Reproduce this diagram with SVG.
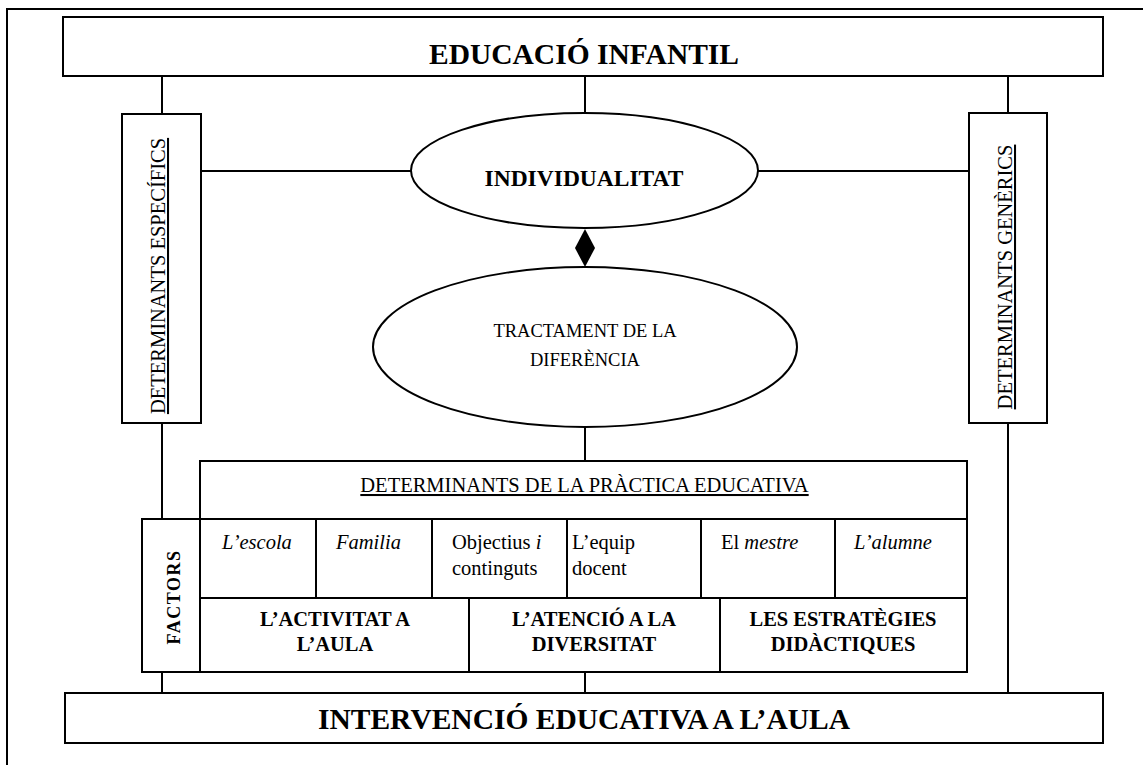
<svg xmlns="http://www.w3.org/2000/svg" width="1143" height="765" viewBox="0 0 1143 765">
<style>
  .box{fill:#fff;stroke:#000;stroke-width:2}
  .ln{stroke:#000;stroke-width:2;fill:none}
  .t{font-family:"Liberation Serif","Times New Roman",serif;fill:#000}
  .big{font-size:29.5px;font-weight:bold;text-anchor:middle}
  .mid{font-size:23.5px;font-weight:bold;text-anchor:middle}
  .reg{font-size:20.5px}
  .bold{font-size:20.5px;font-weight:bold;text-anchor:middle}
  .it{font-style:italic}
  .u{text-decoration:underline}
  .c{text-anchor:middle}
</style>
<rect x="0" y="0" width="1143" height="765" fill="#fff"/>
<rect id="frame" x="7" y="9" width="1150" height="770" fill="none" stroke="#000" stroke-width="2"/>

<g id="connectors">
  <line class="ln" x1="162" y1="76" x2="162" y2="114"/>
  <line class="ln" x1="585" y1="76" x2="585" y2="113"/>
  <line class="ln" x1="1008" y1="76" x2="1008" y2="113"/>
  <line class="ln" x1="201" y1="171" x2="411" y2="171"/>
  <line class="ln" x1="758" y1="171" x2="969" y2="171"/>
  <polygon points="585,229 595,248 585,267 575,248" fill="#000"/>
  <line class="ln" x1="585" y1="427" x2="585" y2="461"/>
  <line class="ln" x1="162" y1="423" x2="162" y2="519"/>
  <line class="ln" x1="1008" y1="423" x2="1008" y2="693"/>
  <line class="ln" x1="162" y1="672" x2="162" y2="693"/>
  <line class="ln" x1="585" y1="672" x2="585" y2="693"/>
</g>

<g id="educacio-infantil">
  <rect class="box" x="63" y="17" width="1040" height="59"/>
  <text class="t big" x="584" y="64">EDUCACIÓ INFANTIL</text>
</g>

<g id="determinants-especifics">
  <rect class="box" x="122" y="114" width="79" height="309"/>
  <text class="t reg c u" transform="translate(165,276) rotate(-90)">DETERMINANTS ESPECÍFICS</text>
</g>

<g id="determinants-generics">
  <rect class="box" x="969" y="113" width="78" height="310"/>
  <text class="t reg c u" transform="translate(1012,277) rotate(-90)">DETERMINANTS GENÈRICS</text>
</g>

<g id="individualitat">
  <ellipse class="box" cx="584.5" cy="170.5" rx="173.5" ry="57.5"/>
  <text class="t mid" x="584" y="186">INDIVIDUALITAT</text>
</g>

<g id="tractament">
  <ellipse class="box" cx="585" cy="347" rx="212" ry="80"/>
  <text class="t c" style="font-size:18.5px" x="585" y="337">TRACTAMENT DE LA</text>
  <text class="t c" style="font-size:18.5px" x="585" y="366">DIFERÈNCIA</text>
</g>

<g id="determinants-practica">
  <rect class="box" x="200" y="461" width="767" height="58"/>
  <text class="t reg c u" x="584.5" y="492">DETERMINANTS DE LA PRÀCTICA EDUCATIVA</text>
</g>

<g id="factors">
  <rect class="box" x="142" y="519" width="58" height="153"/>
  <text class="t c" style="font-size:18px;font-weight:bold;letter-spacing:1.5px" transform="translate(180,597) rotate(-90)">FACTORS</text>
</g>

<g id="cell-escola">
  <rect class="box" x="200" y="519" width="116" height="79"/>
  <text class="t reg it" x="222" y="549">L’escola</text>
</g>
<g id="cell-familia">
  <rect class="box" x="316" y="519" width="116" height="79"/>
  <text class="t reg it" x="336" y="549">Familia</text>
</g>
<g id="cell-objectius">
  <rect class="box" x="432" y="519" width="135" height="79"/>
  <text class="t reg" x="452" y="549">Objectius <tspan class="it">i</tspan></text>
  <text class="t reg" x="452" y="575">continguts</text>
</g>
<g id="cell-equip">
  <rect class="box" x="567" y="519" width="134" height="79"/>
  <text class="t reg" x="572" y="549">L’equip</text>
  <text class="t reg" x="572" y="575">docent</text>
</g>
<g id="cell-mestre">
  <rect class="box" x="701" y="519" width="134" height="79"/>
  <text class="t reg" x="721" y="549">El <tspan class="it">mestre</tspan></text>
</g>
<g id="cell-alumne">
  <rect class="box" x="835" y="519" width="132" height="79"/>
  <text class="t reg it" x="854" y="549">L’alumne</text>
</g>

<g id="activitat">
  <rect class="box" x="200" y="598" width="269" height="74"/>
  <text class="t bold" x="335" y="626">L’ACTIVITAT A</text>
  <text class="t bold" x="335" y="651">L’AULA</text>
</g>
<g id="atencio">
  <rect class="box" x="469" y="598" width="251" height="74"/>
  <text class="t bold" x="594" y="626">L’ATENCIÓ A LA</text>
  <text class="t bold" x="594" y="651">DIVERSITAT</text>
</g>
<g id="estrategies">
  <rect class="box" x="720" y="598" width="247" height="74"/>
  <text class="t bold" x="843" y="626">LES ESTRATÈGIES</text>
  <text class="t bold" x="843" y="651">DIDÀCTIQUES</text>
</g>

<g id="intervencio">
  <rect class="box" x="65" y="693" width="1038" height="50"/>
  <text class="t big" x="584" y="729">INTERVENCIÓ EDUCATIVA A L’AULA</text>
</g>
</svg>
